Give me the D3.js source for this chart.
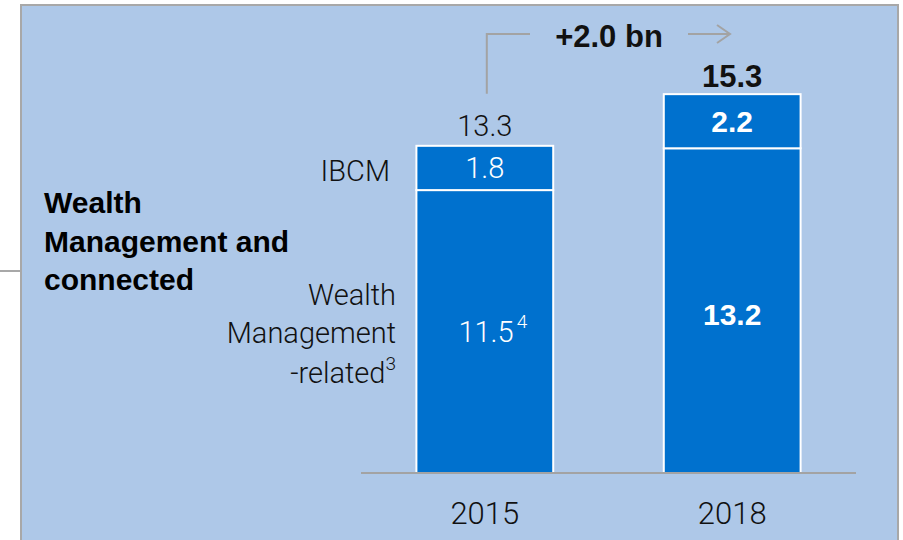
<!DOCTYPE html>
<html>
<head>
<meta charset="utf-8">
<script src="https://cdn.jsdelivr.net/npm/d3@7"></script>
<style>
  html, body { margin: 0; padding: 0; background: #fff; }
  svg { display: block; }
  text { font-family: Roboto, "Liberation Sans", Arial, sans-serif; font-weight: 300; }
  text.b { font-family: "Liberation Sans", Arial, sans-serif; font-weight: bold; }
</style>
</head>
<body>
<svg id="chart" width="903" height="540"></svg>
<script>
// data
const years = ["2015", "2018"];
const wealthMgmt = [11.5, 13.2];
const ibcm = [1.8, 2.2];
const totals = [13.3, 15.3];
const delta = "+2.0 bn";

const svg = d3.select("#chart");

// panel
svg.append("line")
  .attr("x1", 0).attr("x2", 21)
  .attr("y1", 271).attr("y2", 271)
  .attr("stroke", "#a8a8a8").attr("stroke-width", 2);

svg.append("rect")
  .attr("x", 21).attr("y", 5)
  .attr("width", 877).attr("height", 545)
  .attr("fill", "#aec8e8")
  .attr("stroke", "#a8a8a8").attr("stroke-width", 2);

const x = d3.scaleBand()
  .domain(years)
  .range([361, 856])
  .paddingInner(0.447)
  .paddingOuter(0.224);

const y = d3.scaleLinear()
  .domain([0, 16])
  .range([473, 473 - 16 * 24.6]);

const stacked = years.map((yr, i) => ({
  year: yr,
  parts: [
    { key: "wm", y0: 0, y1: wealthMgmt[i], v: wealthMgmt[i] },
    { key: "ibcm", y0: wealthMgmt[i], y1: wealthMgmt[i] + ibcm[i], v: ibcm[i] },
  ],
  total: totals[i],
}));

const bars = svg.append("g").attr("class", "bars");

stacked.forEach((s) => {
  bars.selectAll(null)
    .data(s.parts)
    .enter()
    .append("rect")
    .attr("x", x(s.year))
    .attr("y", (d) => y(d.y1))
    .attr("width", x.bandwidth())
    .attr("height", (d) => y(d.y0) - y(d.y1))
    .attr("fill", "#0071ce")
    .attr("stroke", "#ffffff")
    .attr("stroke-width", 2);
});

// baseline
svg.append("line")
  .attr("x1", x.range()[0]).attr("x2", x.range()[1])
  .attr("y1", y(0)).attr("y2", y(0))
  .attr("stroke", "#a3a3a3").attr("stroke-width", 2);

// year labels
svg.append("g")
  .selectAll("text")
  .data(years)
  .enter()
  .append("text")
  .attr("x", (d) => x(d) + x.bandwidth() / 2)
  .attr("y", 524)
  .attr("text-anchor", "middle")
  .attr("font-size", 31)
  .attr("fill", "#111")
  .text((d) => d);

const cx = (i) => x(years[i]) + x.bandwidth() / 2;
const fmt = d3.format(".1f");

// 2015 labels (light)
svg.append("text")
  .attr("x", cx(0)).attr("y", y(totals[0]) - 10)
  .attr("text-anchor", "middle").attr("font-size", 29).attr("fill", "#111")
  .text(fmt(totals[0]));

svg.append("text")
  .attr("x", cx(0)).attr("y", (y(wealthMgmt[0]) + y(totals[0])) / 2 + 10)
  .attr("text-anchor", "middle").attr("font-size", 29).attr("fill", "#fff")
  .text(fmt(ibcm[0]));

const wm15 = svg.append("text")
  .attr("x", cx(0) + 8).attr("y", 342)
  .attr("text-anchor", "middle").attr("font-size", 29).attr("fill", "#fff");
wm15.append("tspan").text(fmt(wealthMgmt[0]));
wm15.append("tspan").attr("font-size", 19).attr("dy", -14).attr("dx", 3).text("4");

// 2018 labels (bold)
svg.append("text").attr("class", "b")
  .attr("x", cx(1)).attr("y", y(totals[1]) - 10)
  .attr("text-anchor", "middle").attr("font-size", 31).attr("fill", "#111")
  .text(fmt(totals[1]));

svg.append("text").attr("class", "b")
  .attr("x", cx(1)).attr("y", (y(wealthMgmt[1]) + y(totals[1])) / 2 + 10)
  .attr("text-anchor", "middle").attr("font-size", 30).attr("fill", "#fff")
  .text(fmt(ibcm[1]));

svg.append("text").attr("class", "b")
  .attr("x", cx(1)).attr("y", 325)
  .attr("text-anchor", "middle").attr("font-size", 30).attr("fill", "#fff")
  .text(fmt(wealthMgmt[1]));

// segment labels to the left
svg.append("text")
  .attr("x", 390).attr("y", 181)
  .attr("text-anchor", "end").attr("font-size", 29).attr("fill", "#111")
  .text("IBCM");

const wmLab = svg.append("text")
  .attr("text-anchor", "end").attr("font-size", 29).attr("fill", "#111");
wmLab.append("tspan").attr("x", 396).attr("y", 305).text("Wealth");
wmLab.append("tspan").attr("x", 396).attr("y", 343).text("Management");
wmLab.append("tspan").attr("x", 396).attr("y", 383).text("-related");
wmLab.append("tspan").attr("font-size", 19).attr("dy", -13).text("3");

const head = svg.append("text").attr("class", "b")
  .attr("font-size", 30).attr("fill", "#000");
["Wealth", "Management and", "connected"].forEach((t, i) => {
  head.append("tspan").attr("x", 44).attr("y", 213 + i * 38.5).text(t);
});

// growth connector
const topY = 34;
svg.append("path")
  .attr("d", d3.line()([[cx(0) + 2, y(totals[0]) - 52], [cx(0) + 2, topY], [530, topY]]))
  .attr("fill", "none").attr("stroke", "#a3a3a3").attr("stroke-width", 2);

svg.append("text").attr("class", "b")
  .attr("x", 609).attr("y", 47)
  .attr("text-anchor", "middle").attr("font-size", 31).attr("fill", "#111")
  .text(delta);

svg.append("path")
  .attr("d", "M688," + topY + "L730," + topY + "M717,25L730," + topY + "L717,43")
  .attr("fill", "none").attr("stroke", "#a3a3a3").attr("stroke-width", 2);
</script>
</body>
</html>
